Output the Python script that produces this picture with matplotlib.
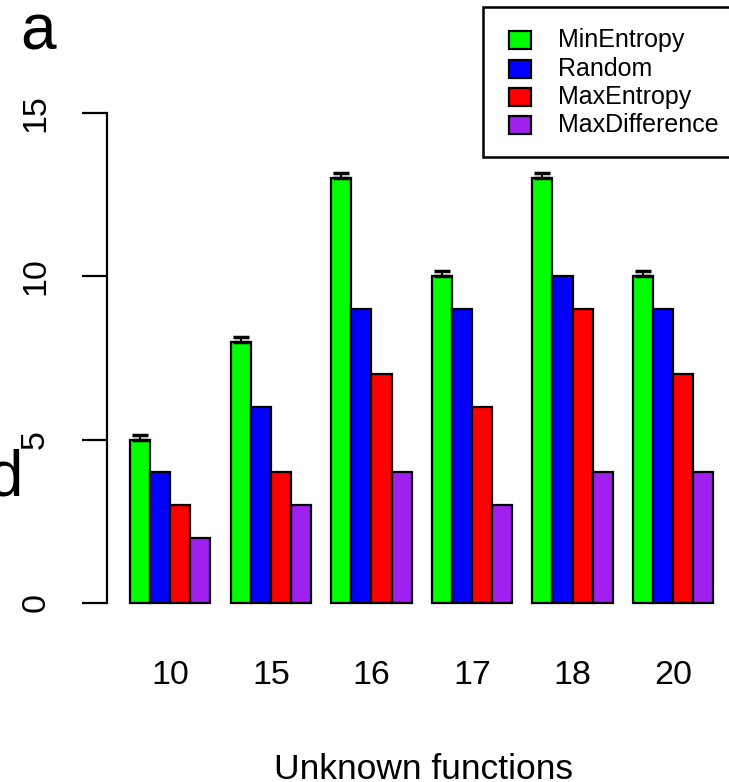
import matplotlib
matplotlib.use("Agg")
import matplotlib.pyplot as plt
from matplotlib.patches import Rectangle
import matplotlib.transforms as mtrans
import numpy as np

plt.rcParams['font.family'] = ['Liberation Sans', 'DejaVu Sans']

categories = ["10", "15", "16", "17", "18", "20"]
series_names = ["MinEntropy", "Random", "MaxEntropy", "MaxDifference"]
min_entropy = [5, 8, 13, 10, 13, 10]
random_vals = [4, 6, 9, 9, 10, 9]
max_entropy = [3, 4, 7, 6, 9, 7]
max_difference = [2, 3, 4, 3, 4, 4]
min_entropy_err = [0.15, 0.15, 0.15, 0.15, 0.15, 0.15]
colors = ["#00FF00", "#0000FF", "#FF0000", "#A020F0"]
y_ticks = [0, 5, 10, 15]

W, H = 729, 782
fig = plt.figure(figsize=(W / 100, H / 100), dpi=100)

def fx(px):
    return px / W

def fy(py):
    return 1 - py / H

left_px, right_px = 106.7, 736.7
top_px, bot_px = 93.4, 622.6
ax = fig.add_axes([fx(left_px), fy(bot_px), (right_px - left_px) / W, (bot_px - top_px) / H])

series = [min_entropy, random_vals, max_entropy, max_difference]
n_groups = len(categories)
n_ser = len(series)
group_starts = np.array([1 + (n_ser + 1) * g for g in range(n_groups)])
for i, (vals, c) in enumerate(zip(series, colors)):
    xs = group_starts + i + 0.5
    ax.bar(xs, vals, width=1.0, color=c, edgecolor='black', linewidth=1.6, zorder=2)

xs_green = group_starts + 0.5
ax.errorbar(xs_green, min_entropy, yerr=[np.zeros(n_groups), min_entropy_err],
            fmt='none', ecolor='black', elinewidth=1.5, capsize=5.5, capthick=2.5, zorder=3)

ax.set_xlim(-0.16, n_groups * (n_ser + 1) + 1.16)
ax.set_ylim(-0.6, 15.6)

for s in ['top', 'right', 'bottom']:
    ax.spines[s].set_visible(False)
ax.spines['left'].set_bounds(0, 15)
ax.spines['left'].set_linewidth(1.6)
ax.set_yticks(y_ticks)
ax.set_yticklabels([str(t) for t in y_ticks], rotation=90, va='center', fontsize=24.5)
ax.tick_params(axis='y', length=18, width=1.6, pad=22, labelcolor='black')
ax.set_xticks([])

trans = mtrans.blended_transform_factory(ax.transData, fig.transFigure)
centers = group_starts + n_ser / 2
for cx, lab in zip(centers, categories):
    ax.text(cx, fy(675), lab, transform=trans, ha='center', va='center', fontsize=24.5)

fig.text(fx(423), fy(779), "Unknown functions", ha='center', va='baseline', fontsize=25.5)

# panel letters
fig.text(fx(20), fy(50), "a", ha='left', va='baseline', fontsize=46)
fig.text(fx(23), fy(496), "d", ha='right', va='baseline', fontsize=46)

# legend
fig.patches.append(Rectangle((fx(483), fy(157)), fx(260), (157 - 7) / H,
                             transform=fig.transFigure, facecolor='white',
                             edgecolor='black', linewidth=1.8, zorder=5))
row_y = [40, 69, 97, 125]
for name, c, ry in zip(series_names, colors, row_y):
    fig.patches.append(Rectangle((fx(509), fy(ry + 9)), fx(22), 18 / H,
                                 transform=fig.transFigure, facecolor=c,
                                 edgecolor='black', linewidth=1.6, zorder=6))
    fig.text(fx(558), fy(ry), name, ha='left', va='center', fontsize=18, zorder=7)

fig.savefig("out.png", dpi=100)
